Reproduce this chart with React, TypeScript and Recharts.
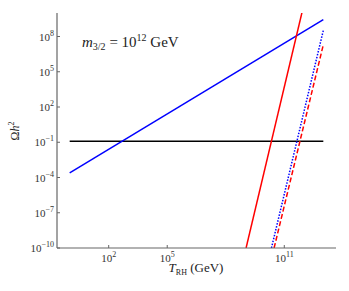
import { Line, LineChart, XAxis, YAxis } from 'recharts';

// reheating temperature (GeV) and relic abundance
const blueSolidT = [1, 1e13];
const blueSolidOmega = [2.5e-4, 2.7e9];

const blackT = [1, 1e13];
const blackOmega = [0.12, 0.12];

const redSolidT = [1.1e9, 1e12];
const redSolidOmega = [1e-10, 5e10];

const redDashedT = [3e10, 1e13];
const redDashedOmega = [1e-10, 2e7];

const blueDottedT = [2.2e10, 1e13];
const blueDottedOmega = [1e-10, 3.3e8];

const xTicks = [1e2, 1e5, 1e8, 1e11];
const yTicks = [1e-10, 1e-7, 1e-4, 1e-1, 1e2, 1e5, 1e8];

const xDomain = [0.2239, 4.467e13];
const yDomain = [1e-10, 1e10];

const toRows = (t: number[], omega: number[]) => t.map((T, i) => ({ T, omega: omega[i] }));

const FONT = '"Liberation Serif", "DejaVu Serif", serif';
const SPINE = '#666';

function expLabel(v: number) {
  const e = Math.round(Math.log10(v));
  return e < 0 ? `\u2212${-e}` : `${e}`;
}

function YTick({ x, y, payload }: any) {
  return (
    <g>
      <line x1={x} x2={x + 3} y1={y} y2={y} stroke={SPINE} strokeWidth={1} />
      <text x={x - 3} y={y + 4} textAnchor="end" fontFamily={FONT} fontSize={11} fill="#333">
        10
        <tspan dy={-5} fontSize={8}>{expLabel(payload.value)}</tspan>
      </text>
    </g>
  );
}

function XTick({ x, y, payload }: any) {
  return (
    <g>
      <line x1={x} x2={x} y1={y} y2={y - 3} stroke={SPINE} strokeWidth={1} />
      <text x={x} y={y + 14} textAnchor="middle" fontFamily={FONT} fontSize={11} fill="#333">
        10
        <tspan dy={-5} fontSize={8}>{expLabel(payload.value)}</tspan>
      </text>
    </g>
  );
}

export default function App() {
  return (
    <div style={{ position: 'relative', width: 349, height: 291, background: '#fff' }}>
      <style>{'body{margin:0}'}</style>
      <LineChart width={349} height={291} margin={{ top: 13, right: 13, left: 0, bottom: 0 }}>
        <XAxis
          xAxisId="b"
          type="number"
          dataKey="T"
          scale="log"
          domain={xDomain}
          allowDataOverflow
          ticks={xTicks}
          height={43}
          tickSize={0}
          tickMargin={0}
          tick={<XTick />}
          axisLine={{ stroke: SPINE, strokeWidth: 1.2 }}
          tickLine={false}
        />
        <XAxis
          xAxisId="t"
          orientation="top"
          type="number"
          dataKey="T"
          scale="log"
          domain={xDomain}
          allowDataOverflow
          height={0}
          tick={false}
          tickLine={false}
          axisLine={{ stroke: SPINE, strokeWidth: 1.2 }}
        />
        <YAxis
          yAxisId="l"
          type="number"
          dataKey="omega"
          scale="log"
          domain={yDomain}
          allowDataOverflow
          ticks={yTicks}
          width={57}
          tickSize={0}
          tickMargin={0}
          tick={<YTick />}
          axisLine={{ stroke: SPINE, strokeWidth: 1.2 }}
          tickLine={false}
        />
        <YAxis
          yAxisId="r"
          orientation="right"
          type="number"
          dataKey="omega"
          scale="log"
          domain={yDomain}
          allowDataOverflow
          width={0}
          tick={false}
          tickLine={false}
          axisLine={{ stroke: SPINE, strokeWidth: 1.2 }}
        />
        <Line xAxisId="b" yAxisId="l" data={toRows(blackT, blackOmega)} dataKey="omega" stroke="#000" strokeWidth={1.5} dot={false} isAnimationActive={false} />
        <Line xAxisId="b" yAxisId="l" data={toRows(blueSolidT, blueSolidOmega)} dataKey="omega" stroke="#0000ff" strokeWidth={1.5} dot={false} isAnimationActive={false} />
        <Line xAxisId="b" yAxisId="l" data={toRows(redSolidT, redSolidOmega)} dataKey="omega" stroke="#ff0000" strokeWidth={1.5} dot={false} isAnimationActive={false} />
        <Line xAxisId="b" yAxisId="l" data={toRows(blueDottedT, blueDottedOmega)} dataKey="omega" stroke="#0000ff" strokeWidth={1.5} strokeDasharray="1.5 1.5" dot={false} isAnimationActive={false} />
        <Line xAxisId="b" yAxisId="l" data={toRows(redDashedT, redDashedOmega)} dataKey="omega" stroke="#ff0000" strokeWidth={1.5} strokeDasharray="5 2.5" dot={false} isAnimationActive={false} />
      </LineChart>
      <svg width={349} height={291} style={{ position: 'absolute', left: 0, top: 0, pointerEvents: 'none' }}>
        <text x={82} y={47} fontFamily={FONT} fontSize={15} fill="#222">
          <tspan fontStyle="italic">m</tspan>
          <tspan dy={3} fontSize={10}>3/2</tspan>
          <tspan dy={-3}> = 10</tspan>
          <tspan dy={-6} fontSize={10}>12</tspan>
          <tspan dy={6}> GeV</tspan>
        </text>
        <text x={196} y={272} textAnchor="middle" fontFamily={FONT} fontSize={13} fill="#222">
          <tspan fontStyle="italic">T</tspan>
          <tspan dy={3} fontSize={8}>RH</tspan>
          <tspan dy={-3}> (GeV)</tspan>
        </text>
        <text transform="translate(19,131) rotate(-90)" textAnchor="middle" fontFamily={FONT} fontSize={12} fill="#222">
          Ω<tspan fontStyle="italic">h</tspan>
          <tspan dy={-5} fontSize={8}>2</tspan>
        </text>
      </svg>
    </div>
  );
}
